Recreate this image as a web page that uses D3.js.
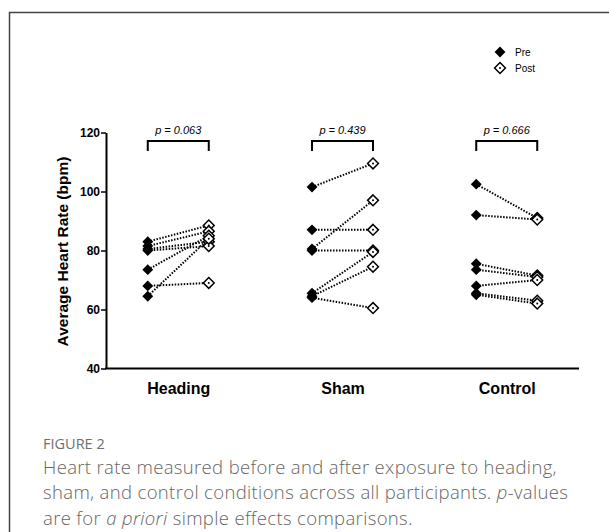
<!DOCTYPE html>
<html>
<head>
<meta charset="utf-8">
<script src="https://cdn.jsdelivr.net/npm/d3@7"></script>
<style>
    body { margin: 0; background: #fff; }
    svg { display: block; }
</style>
</head>
<body>
<div id="chart"></div>
<script>
(function () {
    'use strict';

    var groups = ['Heading', 'Sham', 'Control'];
    var phases = ['Pre', 'Post'];
    var pValues = ['p = 0.063', 'p = 0.439', 'p = 0.666'];
    var yTicks = [40, 60, 80, 100, 120];

    // one entry per participant, pre and post in the same order
    var headingPre = [83, 81.5, 80.5, 80, 73.5, 68, 64.5];
    var headingPost = [88.5, 86.5, 83, 81.5, 85, 69, 84];
    var shamPre = [101.5, 87, 80.5, 80, 65.5, 64.5, 64];
    var shamPost = [109.5, 87, 97, 80, 79.5, 74.5, 60.5];
    var controlPre = [102.5, 92, 75.5, 73.5, 68, 65.5, 65];
    var controlPost = [91, 90.5, 71.5, 71, 70, 63, 62];

    var series = [
        {group: 'Heading', pre: headingPre, post: headingPost},
        {group: 'Sham', pre: shamPre, post: shamPost},
        {group: 'Control', pre: controlPre, post: controlPost}
    ];

    var width = 609,
        height = 532,
        margin = {top: 132.5, right: 30, bottom: 163.5, left: 106};

    var svg = d3.select('#chart')
        .append('svg')
        .attr('width', width)
        .attr('height', height);

    // frame of the figure panel
    svg.append('path')
        .attr('d', 'M9.5,' + (height + 5) + ' L9.5,12.5 L' + (width + 5) + ',12.5')
        .attr('fill', 'none')
        .attr('stroke', '#444')
        .attr('stroke-width', 1.5);

    var x = d3.scalePoint()
        .domain(groups)
        .range([margin.left, width - margin.right])
        .padding(0.44);

    var xPhase = d3.scalePoint()
        .domain(phases)
        .range([-30.5, 30.5]);

    var y = d3.scaleLinear()
        .domain([40, 120])
        .range([height - margin.bottom, margin.top]);

    var font = 'Arial, "Liberation Sans", sans-serif';

    // y axis
    var yAxis = svg.append('g')
        .attr('transform', 'translate(' + margin.left + ',0)')
        .call(d3.axisLeft(y).tickValues(yTicks).tickSize(5).tickSizeOuter(0).tickPadding(1));
    yAxis.select('.domain').attr('stroke', '#000').attr('stroke-width', 2);
    yAxis.selectAll('.tick line').attr('stroke', '#000').attr('stroke-width', 1.5);
    yAxis.selectAll('.tick text')
        .attr('font-family', font)
        .attr('font-weight', 'bold')
        .attr('font-size', 12)
        .attr('fill', '#000');

    // x axis
    var xAxis = svg.append('g')
        .attr('transform', 'translate(0,' + y(40) + ')')
        .call(d3.axisBottom(x).tickSize(0).tickSizeOuter(0).tickPadding(14));
    xAxis.select('.domain').attr('stroke', '#000').attr('stroke-width', 2)
        .attr('d', 'M' + (margin.left - 1) + ',0H' + (width - margin.right));
    xAxis.selectAll('.tick text')
        .attr('font-family', font)
        .attr('font-weight', 'bold')
        .attr('font-size', 16)
        .attr('fill', '#000');

    svg.append('text')
        .attr('transform', 'translate(68,' + ((y(40) + y(120)) / 2 + 1) + ') rotate(-90)')
        .attr('text-anchor', 'middle')
        .attr('font-family', font)
        .attr('font-weight', 'bold')
        .attr('font-size', 15.5)
        .text('Average Heart Rate (bpm)');

    // significance brackets
    var brackets = svg.append('g').selectAll('g')
        .data(groups)
        .enter().append('g');
    brackets.append('path')
        .attr('d', function (d) {
            var x0 = x(d) + xPhase('Pre'), x1 = x(d) + xPhase('Post');
            return 'M' + x0 + ',151 V141 H' + x1 + ' V151';
        })
        .attr('fill', 'none')
        .attr('stroke', '#000')
        .attr('stroke-width', 2);
    brackets.append('text')
        .attr('x', function (d) { return x(d); })
        .attr('y', 134)
        .attr('text-anchor', 'middle')
        .attr('font-family', font)
        .attr('font-style', 'italic')
        .attr('font-size', 11)
        .text(function (d, i) { return pValues[i]; });

    // paired lines
    var pairs = [];
    series.forEach(function (s) {
        s.pre.forEach(function (v, i) {
            pairs.push({group: s.group, pre: v, post: s.post[i]});
        });
    });

    svg.append('g').selectAll('line')
        .data(pairs)
        .enter().append('line')
        .attr('x1', function (d) { return x(d.group) + xPhase('Pre'); })
        .attr('y1', function (d) { return y(d.pre); })
        .attr('x2', function (d) { return x(d.group) + xPhase('Post'); })
        .attr('y2', function (d) { return y(d.post); })
        .attr('stroke', '#000')
        .attr('stroke-width', 2)
        .attr('stroke-dasharray', '1.5,1.5');

    var diamond = d3.symbol().type(d3.symbolDiamond2).size(75);

    function drawPre(sel) {
        sel.append('path')
            .attr('d', diamond)
            .attr('fill', '#000');
    }

    function drawPost(sel) {
        sel.append('path')
            .attr('d', diamond)
            .attr('fill', '#fff')
            .attr('stroke', '#000')
            .attr('stroke-width', 1.5);
        sel.append('circle')
            .attr('r', 1)
            .attr('fill', '#000');
    }

    svg.append('g').selectAll('g')
        .data(pairs)
        .enter().append('g')
        .attr('transform', function (d) {
            return 'translate(' + (x(d.group) + xPhase('Pre')) + ',' + y(d.pre) + ')';
        })
        .call(drawPre);

    svg.append('g').selectAll('g')
        .data(pairs)
        .enter().append('g')
        .attr('transform', function (d) {
            return 'translate(' + (x(d.group) + xPhase('Post')) + ',' + y(d.post) + ')';
        })
        .call(drawPost);

    // legend
    var legend = svg.append('g').selectAll('g')
        .data(phases)
        .enter().append('g')
        .attr('transform', function (d, i) {
            return 'translate(500,' + (52 + i * 16) + ')';
        });
    legend.each(function (d) {
        d3.select(this).call(d === 'Pre' ? drawPre : drawPost);
    });
    legend.append('text')
        .attr('x', 15)
        .attr('y', 3.5)
        .attr('font-family', font)
        .attr('font-size', 10)
        .text(function (d) { return d; });

    // caption
    var capFont = '"Open Sans", "Noto Sans", sans-serif';
    svg.append('text')
        .attr('x', 43)
        .attr('y', 449)
        .attr('font-family', capFont)
        .attr('font-size', 14.5)
        .attr('fill', '#6f6f6f')
        .text('FIGURE 2');

    var caption = svg.append('text')
        .attr('font-family', capFont)
        .attr('font-weight', 300)
        .attr('font-size', 18.5)
        .attr('letter-spacing', 0.35)
        .attr('fill', '#666');
    caption.append('tspan').attr('x', 43).attr('y', 473.5)
        .text('Heart rate measured before and after exposure to heading,');
    var line2 = caption.append('tspan').attr('x', 43).attr('y', 499);
    line2.append('tspan').text('sham, and control conditions across all participants. ');
    line2.append('tspan').attr('font-style', 'italic').text('p');
    line2.append('tspan').text('-values');
    var line3 = caption.append('tspan').attr('x', 43).attr('y', 524.5);
    line3.append('tspan').text('are for ');
    line3.append('tspan').attr('font-style', 'italic').text('a priori');
    line3.append('tspan').text(' simple effects comparisons.');
})();
</script>
</body>
</html>
